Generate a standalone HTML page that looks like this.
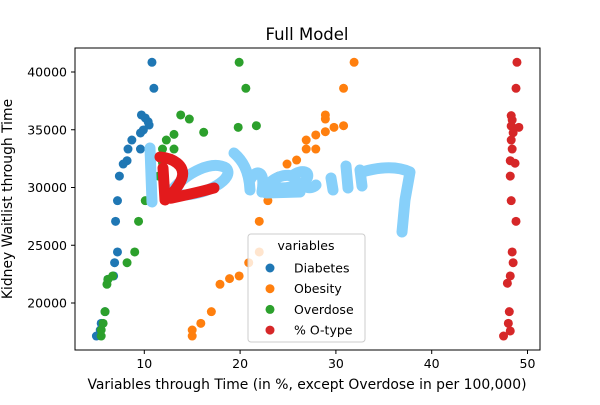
<!DOCTYPE html>
<html><head><meta charset="utf-8"><style>
body{margin:0;background:#fff}
svg text{font-family:"DejaVu Sans","Liberation Sans",sans-serif;fill:#000}
</style></head><body>
<svg id="chart" width="600" height="400" viewBox="0 0 600 400" xmlns="http://www.w3.org/2000/svg">
<rect width="600" height="400" fill="#fff"/>
<text x="307" y="40" font-size="16.5" text-anchor="middle">Full Model</text>
<g id="marks"></g>
<rect x="75" y="48" width="465" height="302" fill="none" stroke="#000" stroke-width="1"/>
<g id="xticks"></g><g id="yticks"></g>
<text x="307" y="389" font-size="13.9" text-anchor="middle">Variables through Time (in %, except Overdose in per 100,000)</text>
<text transform="translate(12,199) rotate(-90)" font-size="13.9" text-anchor="middle">Kidney Waitlist through Time</text>
<g>
<rect x="248" y="234" width="117" height="108" rx="3" fill="#fff" fill-opacity="0.8" stroke="#ccc"/>
<text x="306" y="250" font-size="12.5" text-anchor="middle">variables</text>
<g id="legend-items"></g>
</g>
<g fill="none" stroke-linecap="round" stroke-linejoin="round" stroke-width="11">
<path stroke="#87d0fa" d="M150,148 L152,202"/>
<path stroke="#87d0fa" d="M172,190 C188,172 212,160 226,168 C236,178 206,196 180,195"/>
<path stroke="#87d0fa" d="M234,153 C242,160 249,170 250,190 M250,180 C255,170 266,168 262,192"/>
<path stroke="#87d0fa" d="M262,192 C272,176 288,172 295,178 C300,188 282,190 272,186 M266,193 L300,192"/>
<path stroke="#87d0fa" d="M292,176 C302,168 312,172 306,180 C300,188 312,190 316,185"/>
<path stroke="#87d0fa" d="M331,178 L333,190"/>
<path stroke="#87d0fa" d="M346,166 L348,188 M360,170 L362,186"/>
<path stroke="#87d0fa" d="M362,172 C376,168 395,165 410,172 L405,200 L402,232"/>
<path stroke="#e31a1c" d="M160,157 C172,158 186,165 182,178 C178,190 164,200 172,198 C186,195 204,191 214,188"/>
<path stroke="#e31a1c" d="M163,168 L165,200"/>
</g>
</svg>
<script>
const ticksX=[10,20,30,40,50];
const ticksY=[20000,25000,30000,35000,40000];
const seriesNames=["Diabetes","Obesity","Overdose","% O-type"];
const blueX=[10.8,11.0,9.7,10.1,10.4,10.5,9.9,9.6,8.7,8.3,9.6,8.2,7.8,7.4,7.2,7.0,7.2,6.9,6.8,6.2,5.9,5.5,5.4,5.0];
const blueY=[40840,38590,36280,36020,35700,35410,34980,34720,34110,33330,33330,32320,32030,30990,28860,27070,24420,23490,22340,22050,19250,18240,17660,17140];
const orangeX=[31.9,30.8,28.9,28.9,30.8,29.8,28.9,27.9,26.9,26.9,27.9,25.9,24.9,24.0,22.9,22.0,22.0,20.9,19.9,18.9,17.9,17.0,15.9,15.0,15.0];
const orangeY=[40840,38590,36280,35930,35350,35210,34830,34550,34110,33330,33330,32380,32030,30990,28860,27070,24420,23490,22340,22110,21620,19250,18240,17660,17140];
const greenX=[19.9,20.6,13.8,14.7,19.8,21.7,16.2,13.1,12.3,11.9,13.1,11.9,11.5,10.1,9.4,9.0,8.2,6.7,6.2,6.1,5.9,5.7,5.5,5.5];
const greenY=[40840,38590,36280,35930,35210,35350,34780,34600,34110,33330,33330,32150,30990,28860,27070,24420,23490,22340,22050,21620,19250,18240,17660,17140];
const redX=[48.9,48.8,48.3,48.4,49.1,48.3,48.5,48.3,48.4,48.2,48.7,48.2,48.3,48.8,48.4,48.5,48.2,47.9,48.1,48.0,48.2,47.5];
const redY=[40840,38590,36220,35840,35210,35320,34740,34110,33330,32320,32100,30990,28860,27070,24420,23490,22340,21710,19250,18240,17580,17140];
const NS="http://www.w3.org/2000/svg";
const sx=v=>48.5+v*9.58;
const sy=v=>72+(40000-v)*57.75/5000;
const colors=["#1f77b4","#ff7f0e","#2ca02c","#d62728"];
const series=[[blueX,blueY,"diabetes"],[orangeX,orangeY,"obesity"],[greenX,greenY,"overdose"],[redX,redY,"o-type"]];
const marks=document.getElementById("marks");
series.forEach((s,si)=>{
  s[0].forEach((x,i)=>{
    const c=document.createElementNS(NS,"circle");
    c.setAttribute("cx",sx(x));c.setAttribute("cy",sy(s[1][i]));c.setAttribute("r",4.5);
    c.setAttribute("fill",colors[si]);
    
    
    marks.appendChild(c);
  });
});
const xt=document.getElementById("xticks");
ticksX.forEach(t=>{
  const l=document.createElementNS(NS,"line");
  l.setAttribute("x1",sx(t));l.setAttribute("x2",sx(t));l.setAttribute("y1",350);l.setAttribute("y2",354);l.setAttribute("stroke","#000");
  
  
  xt.appendChild(l);
  const tx=document.createElementNS(NS,"text");
  tx.setAttribute("x",sx(t));tx.setAttribute("y",368);tx.setAttribute("font-size","12.5");tx.setAttribute("text-anchor","middle");
  tx.textContent=t;
  
  
  xt.appendChild(tx);
});
const yt=document.getElementById("yticks");
ticksY.forEach(t=>{
  const l=document.createElementNS(NS,"line");
  l.setAttribute("x1",71);l.setAttribute("x2",75);l.setAttribute("y1",sy(t));l.setAttribute("y2",sy(t));l.setAttribute("stroke","#000");
  
  
  yt.appendChild(l);
  const tx=document.createElementNS(NS,"text");
  tx.setAttribute("x",67);tx.setAttribute("y",sy(t)+4.5);tx.setAttribute("font-size","12.5");tx.setAttribute("text-anchor","end");
  tx.textContent=t;
  
  
  yt.appendChild(tx);
});
const lg=document.getElementById("legend-items");
seriesNames.forEach((n,i)=>{
  const y=268+i*20.7;
  const c=document.createElementNS(NS,"circle");
  c.setAttribute("cx",270);c.setAttribute("cy",y);c.setAttribute("r",4.5);c.setAttribute("fill",colors[i]);
  
  
  lg.appendChild(c);
  const tx=document.createElementNS(NS,"text");
  tx.setAttribute("x",294);tx.setAttribute("y",y+4.5);tx.setAttribute("font-size","12.5");
  tx.textContent=n;
  
  
  lg.appendChild(tx);
});
</script>
</body></html>
